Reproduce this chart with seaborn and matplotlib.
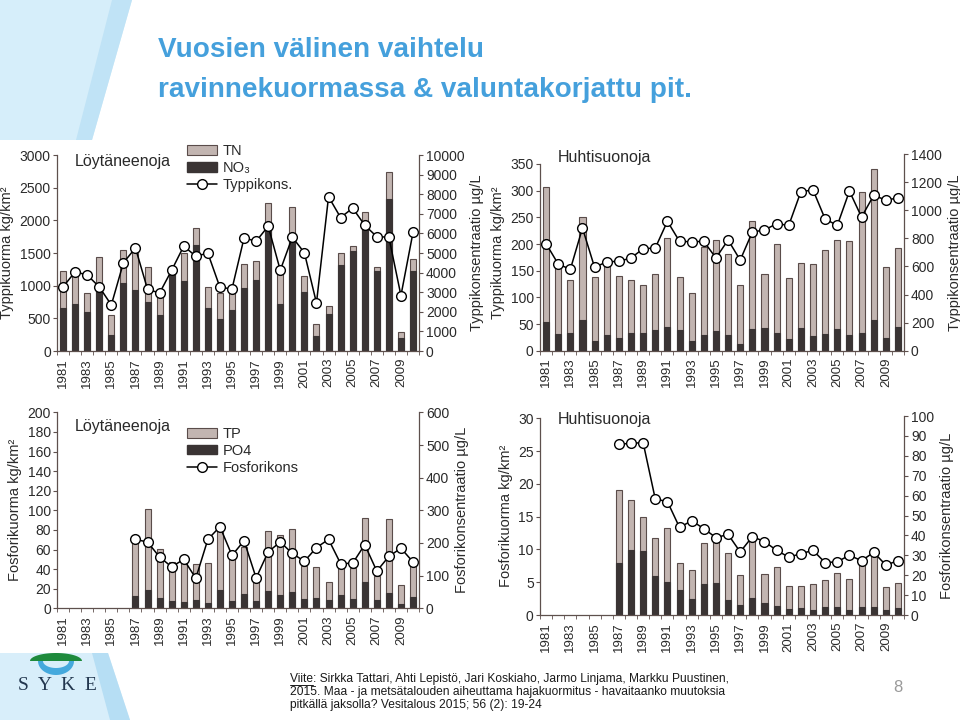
import numpy as np
import pandas as pd
import seaborn as sns
import matplotlib.pyplot as plt
from matplotlib import font_manager
from matplotlib.patches import Patch, Polygon
from matplotlib.lines import Line2D

nan = np.nan
years = list(range(1981, 2011))
year_labels = [str(y) for y in years]

# Löytäneenoja, nitrogen load (kg/km2) and concentration (µg/L)
loyt_tn = [1220, 1160, 895, 1440, 550, 1550, 1570, 1290, 905, 1260, 1500, 1885, 980, 890, 895,
           1325, 1380, 2260, 1220, 2205, 1155, 415, 695, 1495, 1610, 2135, 1285, 2735, 295, 1405]
loyt_no3 = [660, 715, 600, 1030, 240, 1040, 930, 745, 545, 1185, 1075, 1620, 655, 490, 620,
            960, 1085, 1900, 715, 1750, 900, 225, 560, 1320, 1535, 1950, 1220, 2325, 195, 1230]
loyt_ncons = [3270, 4040, 3880, 3270, 2350, 4500, 5260, 3150, 2960, 4120, 5350, 4840, 4990, 3250, 3170,
              5770, 5600, 6370, 4120, 5810, 5010, 2450, 7870, 6810, 7290, 6420, 5830, 5810, 2830, 6050]

# Huhtisuonoja, nitrogen
huhti_tn = [306, 170, 132, 251, 138, 163, 140, 132, 123, 144, 212, 138, 109, 195, 208,
            181, 123, 243, 144, 200, 136, 164, 163, 189, 208, 205, 298, 340, 156, 192]
huhti_no3 = [53, 32, 33, 58, 19, 30, 24, 33, 33, 38, 44, 39, 19, 30, 37,
             30, 13, 40, 42, 34, 22, 43, 28, 32, 40, 30, 34, 58, 23, 44]
huhti_ncons = [762, 617, 579, 873, 593, 633, 636, 660, 726, 731, 921, 778, 776, 778, 660,
               788, 645, 845, 859, 904, 892, 1132, 1144, 937, 892, 1136, 951, 1106, 1072, 1087]

# Löytäneenoja, phosphorus (from 1987)
loyt_tp = [nan] * 6 + [71, 101, 61, 47, 49, 45, 46, 87, 52, 63, 30, 79, 75, 81, 43, 42, 27, 44,
                       41, 92, 33, 91, 24, 46]
loyt_po4 = [nan] * 6 + [13, 19, 11, 7.5, 6.5, 9, 5.5, 19, 7.5, 14.5, 7.5, 18, 14, 17, 10, 10.5, 8,
                        13.5, 10, 27, 8.5, 16, 4.5, 12]
loyt_pcons = [nan] * 6 + [211, 203, 157, 127, 150, 92, 211, 250, 162, 207, 93, 173, 203, 168, 144,
                          186, 211, 137, 138, 195, 114, 159, 184, 142]

# Huhtisuonoja, phosphorus (from 1987)
huhti_tp = [nan] * 6 + [19.1, 17.6, 14.9, 11.7, 13.3, 7.9, 6.9, 11.0, 12.2, 9.4, 6.1, 11.7, 6.25,
                        7.3, 4.5, 4.5, 4.7, 5.4, 6.35, 5.5, 8.5, 9.8, 4.2, 4.9]
huhti_po4 = [nan] * 6 + [7.9, 9.9, 9.7, 5.9, 5.0, 3.8, 2.5, 4.8, 4.9, 2.3, 1.6, 2.6, 1.9, 1.4, 0.9,
                         1.0, 0.7, 1.2, 1.2, 0.8, 1.2, 1.2, 0.8, 1.0]
huhti_pcons = [nan] * 6 + [85.8, 86.3, 86.6, 58.3, 57.0, 44.0, 47.4, 43.4, 38.9, 40.5, 31.7, 39.4,
                           36.9, 32.5, 29.1, 30.8, 32.5, 26.3, 26.8, 30.0, 27.3, 31.5, 25.1, 27.3]

LIGHT = '#c2b5b1'
DARK = '#3a3434'
EDGE = '#5a4c4a'
SPINE = '#5e504d'
TXT = '#2a2a2a'
BLUE = '#45a0dc'

sns.set_style('ticks')
names = {f.name for f in font_manager.fontManager.ttflist}
NARROW = 'Liberation Sans Narrow' if 'Liberation Sans Narrow' in names else 'Liberation Sans'
plt.rcParams['font.family'] = [NARROW, 'DejaVu Sans']

fig = plt.figure(figsize=(9.6, 7.2), dpi=100)

# slide background decorations, in pixel coordinates
bg = fig.add_axes([0, 0, 1, 1], zorder=-10)
bg.set_xlim(0, 960)
bg.set_ylim(720, 0)
bg.axis('off')
bg.add_patch(Polygon([(0, 0), (132, 0), (92, 140), (0, 140)], closed=True, fc='#d6eefa', ec='none'))
bg.add_patch(Polygon([(112, 0), (132, 0), (92, 140), (76, 140)], closed=True, fc='#c0e3f6', ec='none'))
bg.add_patch(Polygon([(0, 653), (108, 653), (130, 720), (0, 720)], closed=True, fc='#d8eefa', ec='none'))
bg.add_patch(Polygon([(92, 653), (108, 653), (130, 720), (110, 720)], closed=True, fc='#b6def4', ec='none'))

# SYKE logo
th = np.linspace(0, np.pi, 40)
cap = np.column_stack([56 + 26 * np.cos(th), 661 - 8 * np.sin(th)])
bg.add_patch(Polygon(cap, closed=True, fc='#1e8a3c', ec='none'))
outer = np.column_stack([56 + 18 * np.cos(th), 661 + 14 * np.sin(th)])
inner = np.column_stack([56 + 13 * np.cos(th[::-1]), 661 + 7 * np.sin(th[::-1])])
bg.add_patch(Polygon(np.vstack([outer, inner]), closed=True, fc='#45a9dd', ec='none'))
bg.text(57, 686, 'S  Y  K  E', ha='center', va='center', fontsize=14, color='#23374f',
        family=['Liberation Serif', 'DejaVu Serif'])

renderer = fig.canvas.get_renderer()
t1 = bg.text(158, 50, 'Vuosien välinen vaihtelu', fontsize=24, fontweight='bold', color=BLUE,
             va='center', ha='left', family=[NARROW, 'DejaVu Sans'])
t2 = bg.text(158, 90, 'ravinnekuormassa & valuntakorjattu pit.', fontsize=24, fontweight='bold',
             color=BLUE, va='center', ha='left', family=[NARROW, 'DejaVu Sans'])
w = t2.get_window_extent(renderer).width
fs = min(26, 24 * 534 / w)
t1.set_fontsize(fs)
t2.set_fontsize(fs)

cite_lines = ['Viite: Sirkka Tattari, Ahti Lepistö, Jari Koskiaho, Jarmo Linjama, Markku Puustinen,',
              '2015. Maa - ja metsätalouden aiheuttama hajakuormitus - havaitaanko muutoksia',
              'pitkällä jaksolla? Vesitalous 2015; 56 (2): 19-24']
cite_y = [679, 692, 705]
texts = [bg.text(290, y, s, fontsize=9, va='center', ha='left', color='#1a1a1a')
         for s, y in zip(cite_lines, cite_y)]
w = texts[0].get_window_extent(renderer).width
cfs = 9 * 442 / w
for t in texts:
    t.set_fontsize(cfs)
vt = bg.text(290, 679, 'Viite', fontsize=cfs, va='center', ha='left')
vw = vt.get_window_extent(renderer).width
vt.remove()
bg.plot([290, 290 + vw], [684.5, 684.5], color='#1a1a1a', lw=0.7)
bg.text(898, 687, '8', fontsize=12, color='#9a9a9a', ha='center', va='center')


def draw_panel(rect, total, part, conc, lmax, lticks, rmax, rticks, llabel, rlabel, site,
               site_y, legend_labels=None, legend_y=1.0):
    ax = fig.add_axes(rect)
    df = pd.DataFrame({'year': year_labels, 'total': total, 'part': part, 'conc': conc})
    sns.barplot(data=df, x='year', y='total', order=year_labels, color=LIGHT, saturation=1,
                edgecolor=EDGE, linewidth=0.8, width=0.5, ax=ax)
    sns.barplot(data=df, x='year', y='part', order=year_labels, color=DARK, saturation=1,
                edgecolor=DARK, linewidth=0.8, width=0.5, ax=ax)
    ax2 = ax.twinx()
    sns.pointplot(data=df, x='year', y='conc', order=year_labels, color='black', errorbar=None,
                  markers='o', linewidth=1.1, markersize=7, markerfacecolor='white',
                  markeredgecolor='black', markeredgewidth=1.0, ax=ax2)
    ax.set_xlim(-0.5, 29.5)
    ax.set_ylim(0, lmax)
    ax2.set_ylim(0, rmax)
    ax.set_yticks(lticks)
    ax2.set_yticks(rticks)
    ax.set_xticks(range(0, 30, 2))
    ax.set_xticklabels(year_labels[::2], rotation=90)
    ax.set_xticks(np.arange(-0.5, 30, 1), minor=True)
    ax.tick_params(axis='x', which='major', length=0, pad=5, labelsize=9.5, labelcolor=TXT)
    ax.tick_params(axis='x', which='minor', length=3, color=SPINE)
    ax.tick_params(axis='y', length=3, width=0.8, color=SPINE, pad=1.5, labelsize=10, labelcolor=TXT)
    ax2.tick_params(axis='y', length=3, width=0.8, color=SPINE, pad=2, labelsize=10, labelcolor=TXT)
    ax.set_xlabel('')
    ax.set_ylabel(llabel, fontsize=10.5, color=TXT, labelpad=4)
    ax2.set_ylabel(rlabel, fontsize=10.5, color=TXT, labelpad=4)
    for s in ['top', 'right']:
        ax.spines[s].set_visible(False)
    for s in ['top', 'left', 'bottom']:
        ax2.spines[s].set_visible(False)
    for s in [ax.spines['left'], ax.spines['bottom'], ax2.spines['right']]:
        s.set_color(SPINE)
        s.set_linewidth(0.9)
    ax.spines['left'].set_bounds(0, lticks[-1])
    ax.text(0.05, site_y, site, transform=ax.transAxes, fontsize=11.5, color=TXT, va='center')
    if legend_labels:
        handles = [Patch(fc=LIGHT, ec=EDGE, lw=0.8), Patch(fc=DARK, ec=DARK),
                   Line2D([0], [0], color='black', lw=1.1, marker='o', ms=7, mfc='white', mec='black')]
        ax2.legend(handles, legend_labels, loc='upper left', bbox_to_anchor=(0.36, legend_y),
                   frameon=False, fontsize=10.5, handlelength=2.0, handleheight=0.6,
                   labelspacing=0.2, handletextpad=0.4, borderpad=0, borderaxespad=0,
                   labelcolor=TXT)
    return ax, ax2


draw_panel([0.0594, 0.5125, 0.3771, 0.2722], loyt_tn, loyt_no3, loyt_ncons,
           3000, list(range(0, 3001, 500)), 10000, list(range(0, 10001, 1000)),
           'Typpikuorma kg/km²', 'Typpikonsentraatio µg/L', 'Löytäneenoja', 0.965,
           ['TN', 'NO₃', 'Typpikons.'], 1.055)

draw_panel([0.5625, 0.5129, 0.3792, 0.2732], huhti_tn, huhti_no3, huhti_ncons,
           368.7, list(range(0, 351, 50)), 1400, list(range(0, 1401, 200)),
           'Typpikuorma kg/km²', 'Typpikonsentraatio µg/L', 'Huhtisuonoja', 0.98)

draw_panel([0.0594, 0.1551, 0.3771, 0.2722], loyt_tp, loyt_po4, loyt_pcons,
           200, list(range(0, 201, 20)), 600, list(range(0, 601, 100)),
           'Fosforikuorma kg/km²', 'Fosforikonsentraatio µg/L', 'Löytäneenoja', 0.93,
           ['TP', 'PO4', 'Fosforikons'], 0.925)

draw_panel([0.5625, 0.1458, 0.3792, 0.2764], huhti_tp, huhti_po4, huhti_pcons,
           30.35, list(range(0, 31, 5)), 100, list(range(0, 101, 10)),
           'Fosforikuorma kg/km²', 'Fosforikonsentraatio µg/L', 'Huhtisuonoja', 0.98)

fig.savefig('out.png', dpi=100)
